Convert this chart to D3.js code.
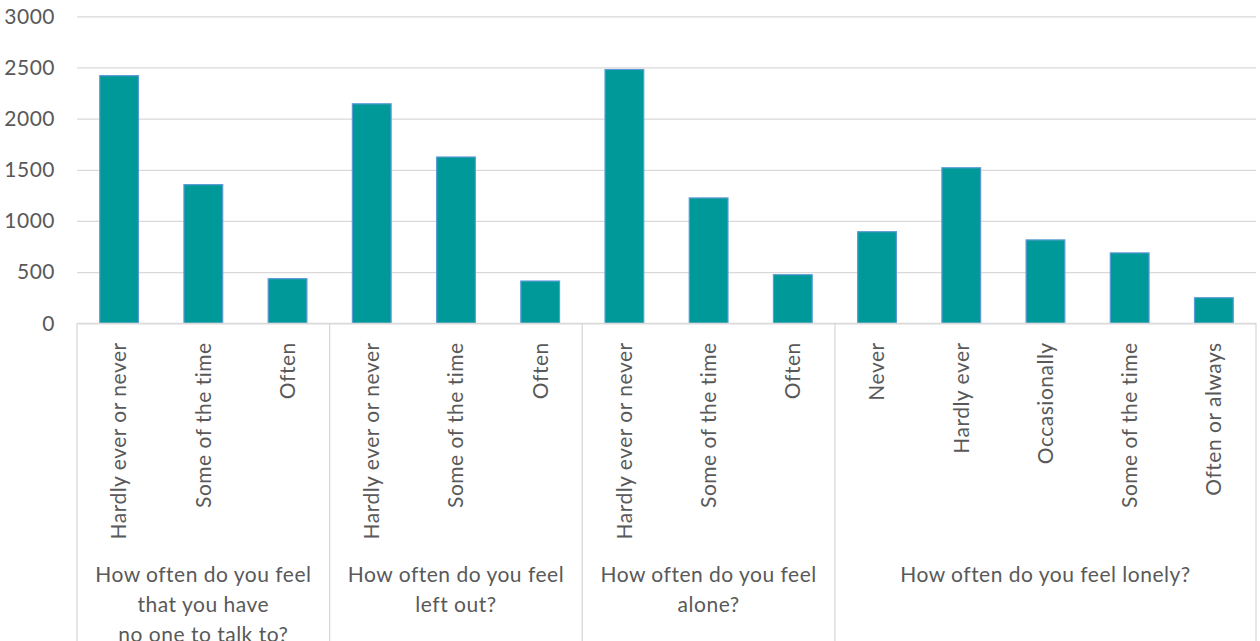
<!DOCTYPE html>
<html>
<head>
<meta charset="utf-8">
<script src="https://cdn.jsdelivr.net/npm/d3@7"></script>
<style>
  html, body { margin: 0; padding: 0; background: #ffffff; }
  svg { display: block; }
  text { font-family: Lato, "Open Sans", sans-serif; fill: #595959; letter-spacing: 0.5px; }
</style>
</head>
<body>
<svg id="chart" width="1260" height="641"></svg>
<script>
// Survey answers, grouped by question
const questions = [
  ["How often do you feel", "that you have", "no one to talk to?"],
  ["How often do you feel", "left out?"],
  ["How often do you feel", "alone?"],
  ["How often do you feel lonely?"]
];
const answersPerQuestion = [3, 3, 3, 5];
const answers = [
  "Hardly ever or never", "Some of the time", "Often",
  "Hardly ever or never", "Some of the time", "Often",
  "Hardly ever or never", "Some of the time", "Often",
  "Never", "Hardly ever", "Occasionally", "Some of the time", "Often or always"
];
const counts = [2420, 1355, 436, 2145, 1625, 413, 2480, 1225, 475, 895, 1520, 815, 688, 250];
const yTicks = [0, 500, 1000, 1500, 2000, 2500, 3000];

const W = 1260, H = 641;
const plotLeft = 77, plotRight = 1256, plotTop = 16.3, plotBottom = 323.3;
const fontSize = 21;

const svg = d3.select("#chart");

const x = d3.scaleBand()
  .domain(d3.range(answers.length))
  .range([plotLeft, plotRight])
  .paddingInner(0.54)
  .paddingOuter(0.27);

const y = d3.scaleLinear().domain([0, 3000]).range([plotBottom, plotTop]);

// Horizontal gridlines and value labels
const yAxis = d3.axisLeft(y)
  .tickValues(yTicks)
  .tickSize(-(plotRight - plotLeft))
  .tickPadding(22)
  .tickFormat(d3.format("d"));

const gy = svg.append("g")
  .attr("transform", `translate(${plotLeft},0)`)
  .call(yAxis);
gy.select(".domain").remove();
gy.selectAll(".tick line").attr("stroke", "#d9d9d9").attr("stroke-width", 1.3);
gy.selectAll(".tick text")
  .attr("font-size", fontSize)
  .style("font-family", "Lato, 'Open Sans', sans-serif")
  .attr("fill", "#595959");

// Bars
svg.append("g").selectAll("rect")
  .data(counts)
  .join("rect")
  .attr("x", (d, i) => x(i))
  .attr("y", d => y(d))
  .attr("width", x.bandwidth())
  .attr("height", d => y(0) - y(d))
  .attr("fill", "#009999")
  .attr("stroke", "#5b9bd5")
  .attr("stroke-width", 1.2);

// Category axis baseline
svg.append("line")
  .attr("x1", plotLeft).attr("x2", plotRight)
  .attr("y1", plotBottom).attr("y2", plotBottom)
  .attr("stroke", "#d9d9d9").attr("stroke-width", 1.3);

// Question boundaries running down through the label area
const step = x.step();
const bounds = [0];
answersPerQuestion.forEach(n => bounds.push(bounds[bounds.length - 1] + n));
const boundX = k => plotLeft + k * step;

svg.append("g").selectAll("line")
  .data(bounds)
  .join("line")
  .attr("x1", d => boundX(d)).attr("x2", d => boundX(d))
  .attr("y1", plotBottom).attr("y2", H)
  .attr("stroke", "#d9d9d9").attr("stroke-width", 1.3);

// Rotated answer labels
svg.append("g").selectAll("text")
  .data(answers)
  .join("text")
  .attr("transform", (d, i) => `translate(${x(i) + x.bandwidth() / 2},${plotBottom + 19}) rotate(-90)`)
  .attr("text-anchor", "end")
  .attr("dy", "0.35em")
  .attr("font-size", fontSize)
  .text(d => d);

// Question labels
const qg = svg.append("g").selectAll("text")
  .data(questions)
  .join("text")
  .attr("text-anchor", "middle")
  .attr("font-size", fontSize)
  .attr("transform", (d, i) => `translate(${(boundX(bounds[i]) + boundX(bounds[i + 1])) / 2},582)`);

qg.selectAll("tspan")
  .data(d => d)
  .join("tspan")
  .attr("x", 0)
  .attr("y", (d, j) => j * 30)
  .text(d => d);
</script>
</body>
</html>
